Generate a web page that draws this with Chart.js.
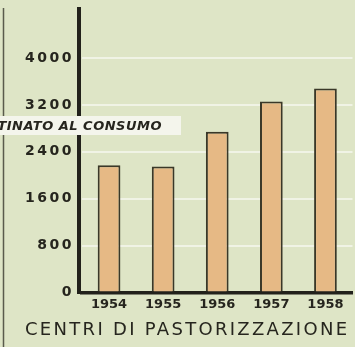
<!DOCTYPE html>
<html lang="it">
<head>
<meta charset="utf-8">
<title>Centri di pastorizzazione</title>
<script src="https://cdn.jsdelivr.net/npm/chart.js@4"></script>
<style>
  html, body { margin: 0; padding: 0; background: #dee5c6; }
  canvas { display: block; }
</style>
</head>
<body>
<canvas id="chart" width="355" height="347"></canvas>
<script>
// milk volumes per year
const years = ["1954", "1955", "1956", "1957", "1958"];
const values = [2170, 2150, 2740, 3260, 3480];
const yTicks = [0, 800, 1600, 2400, 3200, 4000];
const yMax = 4870;

const bandText = "DESTINATO AL CONSUMO";
const axisTitle = "CENTRI DI PASTORIZZAZIONE";

const INK = "#26251e";
const FONT = "'DejaVu Sans', sans-serif";

/* ====================
   EXTRA DRAWING
==================== */
const decor = {
  id: "decor",
  afterDatasetsDraw(chart) {
    const { ctx, chartArea } = chart;
    ctx.save();
    // heavy value axis, set just left of the plot
    ctx.fillStyle = "#22211b";
    ctx.fillRect(chartArea.left - 5, chartArea.top, 4, chartArea.bottom - chartArea.top + 1.5);
    ctx.restore();
    // y tick labels are drawn after this (ticks.z = 1) with wider spacing
    ctx.letterSpacing = "2.5px";
  },
  afterDraw(chart) {
    const { ctx } = chart;
    ctx.save();
    ctx.letterSpacing = "0px";

    // thin rule on the far left
    ctx.strokeStyle = "#5a5b4c";
    ctx.lineWidth = 1.5;
    ctx.beginPath();
    ctx.moveTo(3.5, 8);
    ctx.lineTo(3.5, 347);
    ctx.stroke();

    // white band with caption, over the axis
    ctx.fillStyle = "#f4f5ec";
    ctx.fillRect(0, 116, 181, 19);
    ctx.fillStyle = INK;
    ctx.font = "italic bold 13px " + FONT;
    ctx.letterSpacing = "0.5px";
    ctx.textAlign = "right";
    ctx.textBaseline = "alphabetic";
    ctx.fillText(bandText, 162, 130);

    // category title under the years
    ctx.font = "18px " + FONT;
    ctx.letterSpacing = "2.3px";
    ctx.textAlign = "left";
    ctx.fillText(axisTitle, 25, 335);

    ctx.restore();
    ctx.letterSpacing = "0px";
  }
};

/* ====================
   CHART
==================== */
new Chart(document.getElementById("chart"), {
  type: "bar",
  data: {
    labels: years,
    datasets: [{
      data: values,
      backgroundColor: "#e6b985",
      borderColor: "#3a3828",
      borderWidth: 2,
      barPercentage: 0.42,
      categoryPercentage: 1
    }]
  },
  options: {
    responsive: false,
    animation: false,
    layout: { padding: { left: 0, right: 2.5, top: 7, bottom: 0 } },
    plugins: {
      legend: { display: false },
      tooltip: { enabled: false }
    },
    scales: {
      x: {
        grid: { display: false, drawTicks: false },
        border: { display: true, color: "#22211b", width: 3.5 },
        ticks: {
          color: INK,
          font: { family: FONT, size: 13, weight: "bold" },
          padding: 4,
          maxRotation: 0
        },
        afterFit: s => {
          s.height = 54.5;
          s.paddingLeft = 0;
          s.paddingRight = 0;
        }
      },
      y: {
        min: 0,
        max: yMax,
        border: { display: false },
        grid: {
          drawTicks: false,
          lineWidth: 2,
          color: c => (c.tick && c.tick.value === 0 ? "transparent" : "rgba(255,255,255,0.55)")
        },
        ticks: {
          z: 1,
          color: INK,
          font: { family: FONT, size: 14, weight: "bold" },
          padding: 8,
          callback: v => String(v)
        },
        afterBuildTicks: s => { s.ticks = yTicks.map(v => ({ value: v })); },
        afterFit: s => {
          s.width = 82;
          s.paddingTop = 0;
          s.paddingBottom = 0;
        }
      }
    }
  },
  plugins: [decor]
});
</script>
</body>
</html>
